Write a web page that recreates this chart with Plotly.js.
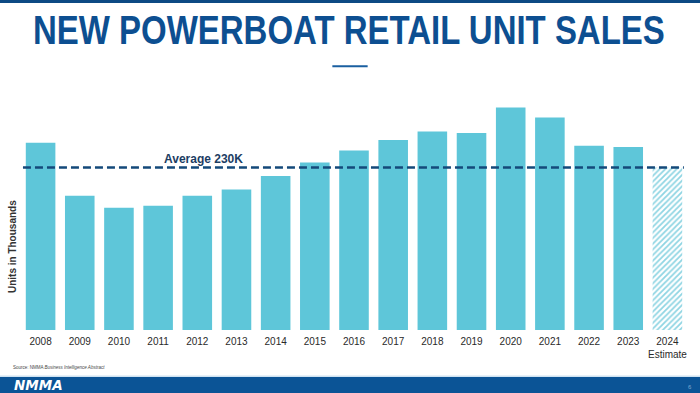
<!DOCTYPE html>
<html>
<head>
<meta charset="utf-8">
<script src="https://cdn.plot.ly/plotly-3.0.1.min.js"></script>
<style>
html,body{margin:0;padding:0;background:#fff;}
#chart{width:700px;height:393px;}
</style>
</head>
<body>
<div id="chart"></div>
<script>
// Data (thousands of units)
const years = ["2008","2009","2010","2011","2012","2013","2014","2015","2016","2017","2018","2019","2020","2021","2022","2023","2024"];
const tickLabels = ["2008","2009","2010","2011","2012","2013","2014","2015","2016","2017","2018","2019","2020","2021","2022","2023","2024<br>Estimate"];
const unitSales = [265, 190, 173, 176, 190, 199, 218, 237, 254, 269, 281, 279, 315, 301, 261, 259, 230];
const isEstimate = [false,false,false,false,false,false,false,false,false,false,false,false,false,false,false,false,true];
const averageValue = 230;
const averageLabel = "Average 230K";
const chartTitle = "NEW POWERBOAT RETAIL UNIT SALES";

const barColor = "#5ec6d9";
const estColor = "#8fd5e3";

const trace = {
  type: "bar",
  x: years,
  y: unitSales,
  width: 0.755,
  marker: {
    color: isEstimate.map(e => e ? estColor : barColor),
    line: {width: 0},
    pattern: {
      shape: isEstimate.map(e => e ? "/" : ""),
      size: 4,
      solidity: 0.45,
      fillmode: "replace"
    }
  },
  hoverinfo: "skip"
};

const layout = {
  width: 700, height: 393,
  margin: {l: 21, r: 13, t: 95, b: 63},
  paper_bgcolor: "#ffffff",
  plot_bgcolor: "#ffffff",
  showlegend: false,
  bargap: 0.245,
  xaxis: {
    type: "category",
    tickvals: years,
    ticktext: tickLabels,
    showgrid: false, zeroline: false, showline: false,
    ticks: "",
    ticklabelstandoff: 4,
    tickfont: {family: "Liberation Sans, Arial, sans-serif", size: 10, color: "#2a2a2a"},
    range: [-0.5, 16.5],
    fixedrange: true
  },
  yaxis: {
    range: [0, 332.7],
    showgrid: false, zeroline: false, showline: false,
    showticklabels: false, ticks: "",
    fixedrange: true
  },
  shapes: [
    {type: "line", xref: "x", yref: "y", x0: -0.45, x1: 16.42, y0: averageValue, y1: averageValue,
     line: {color: "#14497a", width: 2.5, dash: "8px,4px"}},
    // top band
    {type: "rect", xref: "paper", yref: "paper", x0: -0.05, x1: 1.05, y0: 1.392, y1: 1.42, line: {width: 0}, fillcolor: "#0d4a84"},
    // short underline
    {type: "line", xref: "paper", yref: "paper", x0: 0.4675, x1: 0.5205, y0: 1.1223, y1: 1.1223, line: {color: "#1a5fa0", width: 2}},
    // footer band
    {type: "rect", xref: "paper", yref: "paper", x0: -0.05, x1: 1.05, y0: -0.29, y1: -0.2, line: {width: 0}, fillcolor: "#0b5496"},
    {type: "line", xref: "paper", yref: "paper", x0: -0.05, x1: 1.05, y0: -0.197, y1: -0.197, line: {color: "#cfe3f2", width: 1.5}}
  ],
  annotations: [
    {text: chartTitle, xref: "paper", yref: "paper", x: 0.4925, y: 1.277, xanchor: "center", yanchor: "middle",
     showarrow: false, font: {family: "Liberation Sans, Arial, sans-serif", size: 41, weight: "bold", color: "#0d4f91"}},
    {text: "<b>" + averageLabel + "</b>", xref: "x", yref: "y", x: 4.17, y: averageValue, yshift: 9, xanchor: "center", yanchor: "middle",
     showarrow: false, font: {family: "Liberation Sans, Arial, sans-serif", size: 12, color: "#1c3d63"}},
    {text: "<b>Units in Thousands</b>", xref: "paper", yref: "paper", x: -0.0135, xanchor: "center", y: 0.353, yanchor: "middle",
     textangle: -90, showarrow: false, font: {family: "Liberation Sans, Arial, sans-serif", size: 10, color: "#333333"}},
    {text: "Source: NMMA <i>Business Intelligence Abstract</i>", xref: "paper", yref: "paper", x: -0.015, y: -0.16, xanchor: "left", yanchor: "middle",
     showarrow: false, font: {family: "Liberation Sans, Arial, sans-serif", size: 4.5, color: "#444444"}},
    {text: "<b><i>NMMA</i></b>", xref: "paper", yref: "paper", x: -0.013, y: -0.236, xanchor: "left", yanchor: "middle",
     showarrow: false, font: {family: "DejaVu Sans, sans-serif", size: 13.5, color: "#ffffff"}},
    {text: "6", xref: "paper", yref: "paper", x: 1.005, y: -0.243, xanchor: "center", yanchor: "middle",
     showarrow: false, font: {family: "Liberation Sans, Arial, sans-serif", size: 6, color: "#7fa8d0"}}
  ]
};

Plotly.newPlot("chart", [trace], layout, {displayModeBar: false, staticPlot: true}).then(function (gd) {
  // condense the heading horizontally to match the condensed typeface of the original
  const texts = gd.querySelectorAll("g.annotation text.annotation-text");
  texts.forEach(function (t) {
    if (t.textContent === chartTitle) {
      const w = t.getComputedTextLength();
      if (w > 0) {
        const s = 632 / w;
        const x = parseFloat(t.getAttribute("x")) || 0;
        const prev = t.getAttribute("transform") || "";
        t.setAttribute("transform", prev + " translate(" + (x * (1 - s)) + ",0) scale(" + s + ",1)");
      }
    }
  });
});
</script>
</body>
</html>
